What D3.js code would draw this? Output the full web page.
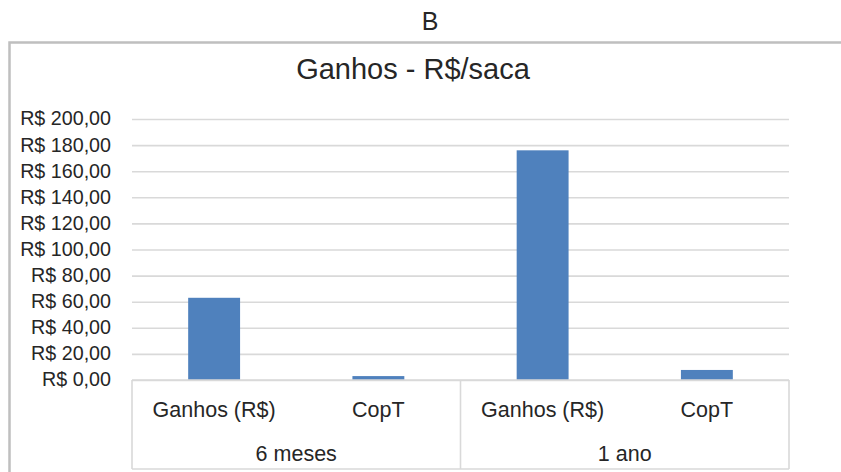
<!DOCTYPE html>
<html>
<head>
<meta charset="utf-8">
<script src="https://cdn.jsdelivr.net/npm/d3@7"></script>
<style>
  html, body { margin: 0; padding: 0; background: #ffffff; }
  svg { display: block; font-family: "Liberation Sans", Arial, sans-serif; }
</style>
</head>
<body>
<svg id="chart" width="841" height="472"></svg>
<script>
// Gains per sack, grouped by holding period
const periods = ["6 meses", "1 ano"];
const metrics = ["Ganhos (R$)", "CopT"];
const ganhos = [63, 176];
const copT = [3, 7.7];
const yTicks = [0, 20, 40, 60, 80, 100, 120, 140, 160, 180, 200];
const panelLabel = "B";
const chartTitle = "Ganhos - R$/saca";

// Flatten into one row per bar
const rows = [];
periods.forEach((p, i) => {
  rows.push({ period: p, metric: metrics[0], value: ganhos[i] });
  rows.push({ period: p, metric: metrics[1], value: copT[i] });
});

const svg = d3.select("#chart");
const textColor = "#262626";
const gridColor = "#d9d9d9";
const barColor = "#4f81bd";

const plot = { left: 132, right: 789, top: 119, bottom: 380 };
const axisBottom = 469;

const x = d3.scaleBand()
  .domain(rows.map(d => d.period + "|" + d.metric))
  .range([plot.left, plot.right])
  .paddingInner(0.684)
  .paddingOuter(0.342);

const y = d3.scaleLinear()
  .domain([0, 200])
  .range([plot.bottom, plot.top]);

const xPeriod = d3.scaleBand()
  .domain(periods)
  .range([plot.left, plot.right]);

const fmt = v => "R$ " + d3.format(".2f")(v).replace(".", ",");

// Panel letter above the chart frame
svg.append("text")
  .attr("x", 430).attr("y", 30)
  .attr("text-anchor", "middle")
  .attr("font-size", 25)
  .attr("fill", textColor)
  .text(panelLabel);

// Chart frame
svg.append("rect")
  .attr("x", 9.5).attr("y", 42.5)
  .attr("width", 900).attr("height", 500)
  .attr("fill", "#ffffff")
  .attr("stroke", "#bfbfbf")
  .attr("stroke-width", 2.5);

// Title
svg.append("text")
  .attr("x", 413).attr("y", 79)
  .attr("text-anchor", "middle")
  .attr("font-size", 29)
  .attr("fill", textColor)
  .text(chartTitle);

// Horizontal gridlines (value axis)
const yAxis = d3.axisLeft(y)
  .tickValues(yTicks)
  .tickSize(-(plot.right - plot.left))
  .tickPadding(21)
  .tickFormat(fmt);

const gy = svg.append("g")
  .attr("transform", `translate(${plot.left},0)`)
  .call(yAxis);
gy.select(".domain").remove();
gy.selectAll(".tick line")
  .attr("stroke", gridColor)
  .attr("stroke-width", 1.6);
gy.selectAll(".tick text")
  .attr("font-size", 19.7)
  .attr("font-family", "Liberation Sans, Arial, sans-serif")
  .attr("fill", textColor)
  .attr("dy", "0.3em");

// Bars
svg.append("g")
  .selectAll("rect")
  .data(rows)
  .join("rect")
  .attr("x", d => x(d.period + "|" + d.metric))
  .attr("width", x.bandwidth())
  .attr("y", d => y(d.value))
  .attr("height", d => y(0) - y(d.value))
  .attr("fill", barColor);

// Category axis: outer box and group separators
const axisG = svg.append("g")
  .attr("stroke", gridColor)
  .attr("stroke-width", 1.6)
  .attr("fill", "none");
axisG.append("line")
  .attr("x1", plot.left).attr("x2", plot.right)
  .attr("y1", plot.bottom).attr("y2", plot.bottom);
axisG.append("line")
  .attr("x1", plot.left).attr("x2", plot.right)
  .attr("y1", axisBottom).attr("y2", axisBottom);
const separators = [plot.left].concat(periods.map(p => xPeriod(p) + xPeriod.bandwidth()));
axisG.selectAll("line.sep")
  .data(separators)
  .join("line")
  .attr("class", "sep")
  .attr("x1", d => d).attr("x2", d => d)
  .attr("y1", plot.bottom).attr("y2", axisBottom);

// Inner category labels
svg.append("g")
  .selectAll("text")
  .data(rows)
  .join("text")
  .attr("x", d => x(d.period + "|" + d.metric) + x.bandwidth() / 2)
  .attr("y", 416.5)
  .attr("text-anchor", "middle")
  .attr("font-size", 21.5)
  .attr("fill", textColor)
  .text(d => d.metric);

// Outer period labels
svg.append("g")
  .selectAll("text")
  .data(periods)
  .join("text")
  .attr("x", d => xPeriod(d) + xPeriod.bandwidth() / 2)
  .attr("y", 460.5)
  .attr("text-anchor", "middle")
  .attr("font-size", 21.5)
  .attr("fill", textColor)
  .text(d => d);
</script>
</body>
</html>
